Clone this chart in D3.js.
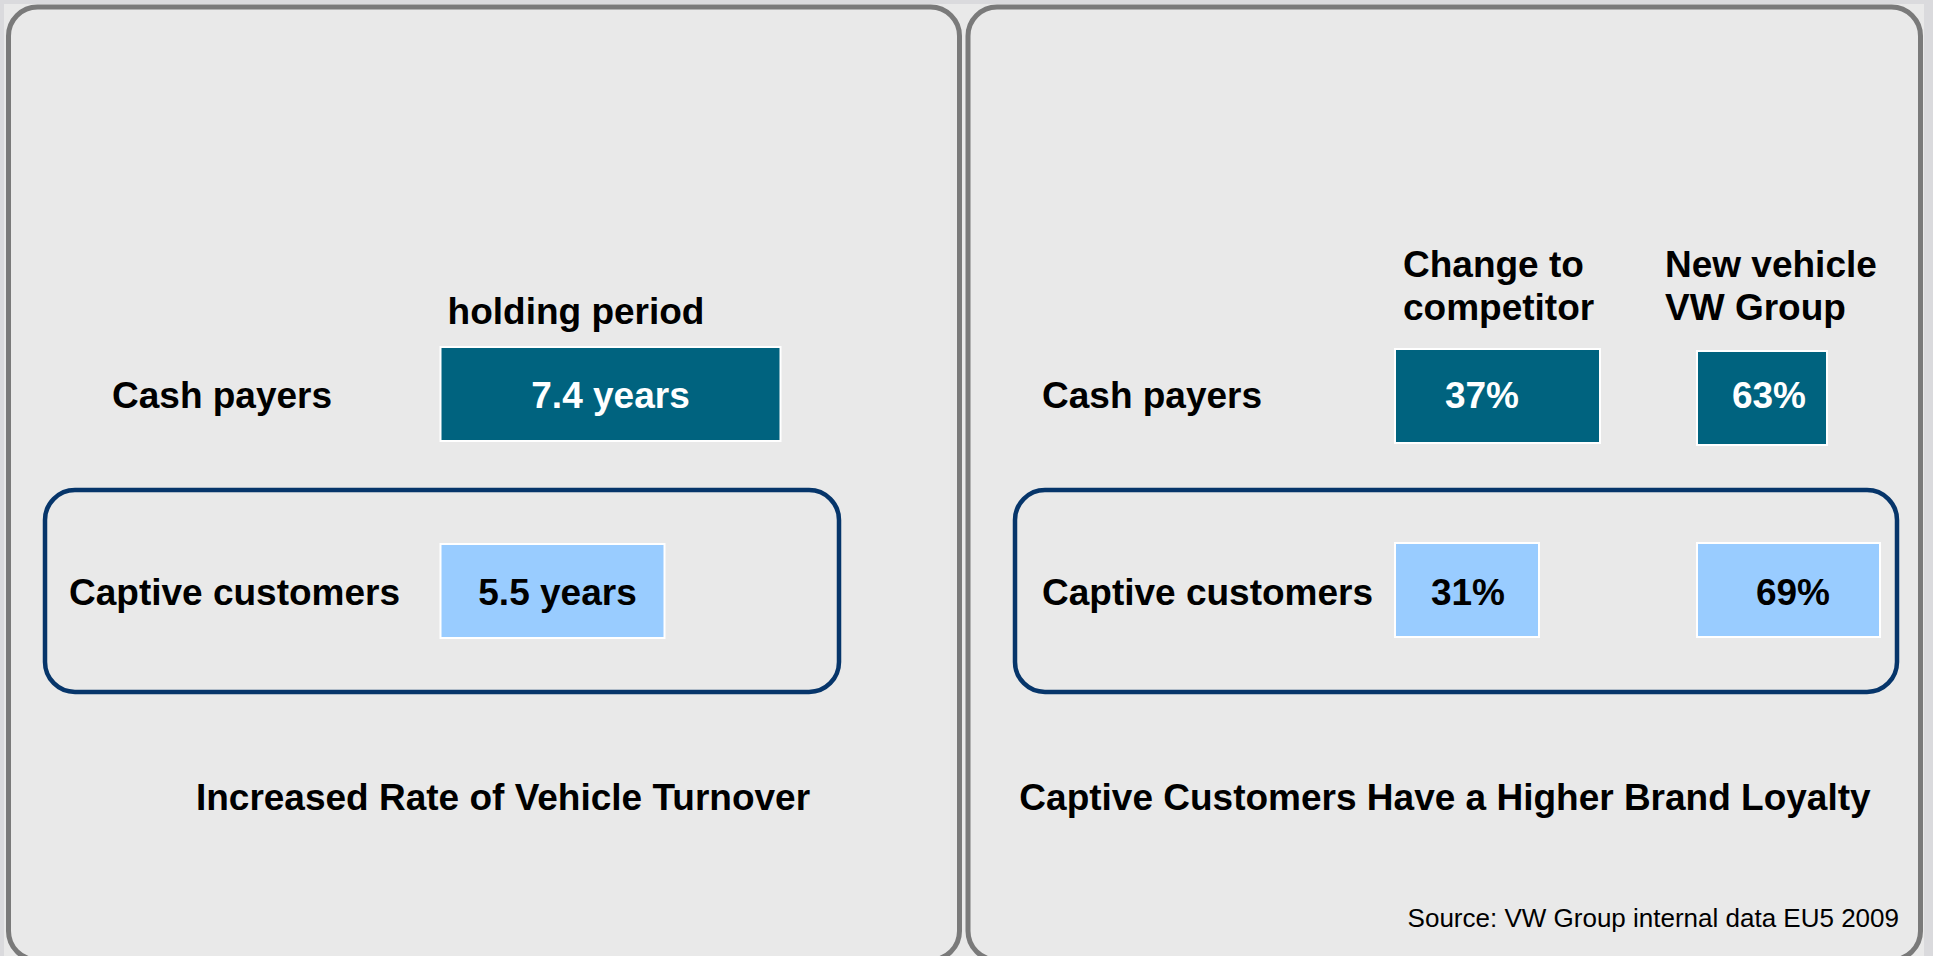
<!DOCTYPE html>
<html>
<head>
<meta charset="utf-8">
<script src="https://cdn.jsdelivr.net/npm/d3@7"></script>
<style>
  html, body { margin: 0; padding: 0; background: #dadadd; overflow: hidden; }
  svg { display: block; }
  text { font-family: "Liberation Sans", Arial, Helvetica, sans-serif; }
</style>
</head>
<body>
<div id="container"></div>
<script>
// Data
const rows = ["Cash payers", "Captive customers"];
const holdingYears = [7.4, 5.5];
const loyaltyColumns = ["Change to\ncompetitor", "New vehicle\nVW Group"];
const changeToCompetitor = [37, 31];
const newVehicleVW = [63, 69];
const leftTitle = "Increased Rate of Vehicle Turnover";
const rightTitle = "Captive Customers Have a Higher Brand Loyalty";
const holdingHeader = "holding period";
const source = "Source: VW Group internal data EU5 2009";

// Chart dimensions
const width = 1933;
const height = 956;
const dark = "#00637f";
const light = "#99ccff";
const navy = "#06356a";
const barH = 94;

const svg = d3.create("svg").attr("width", width).attr("height", height);

// Panels
const panels = [
  { x0: 8.5, x1: 959.5 },
  { x0: 968, x1: 1920.5 }
];
svg.append("rect")
  .attr("x", 4).attr("y", 4)
  .attr("width", 1920).attr("height", 960)
  .attr("fill", "#e9e9e9");

svg.selectAll("rect.panel")
  .data(panels)
  .join("rect")
  .attr("class", "panel")
  .attr("x", d => d.x0)
  .attr("y", 7)
  .attr("width", d => d.x1 - d.x0)
  .attr("height", 953)
  .attr("rx", 29)
  .attr("fill", "#e9e9e9")
  .attr("stroke", "#7a7a7a")
  .attr("stroke-width", 5);

// Row centres (point scale on the rows)
const y = d3.scalePoint().domain(rows).range([394, 591]);

// Captive customer highlight boxes
const captiveY0 = 490, captiveY1 = 692;
svg.selectAll("rect.captive")
  .data([[45, 839], [1015, 1897]])
  .join("rect")
  .attr("class", "captive")
  .attr("x", d => d[0])
  .attr("y", captiveY0)
  .attr("width", d => d[1] - d[0])
  .attr("height", captiveY1 - captiveY0)
  .attr("rx", 30)
  .attr("fill", "none")
  .attr("stroke", navy)
  .attr("stroke-width", 4.5);

function label(g, x, yy, txt, anchor, size, weight, fill) {
  g.append("text")
    .attr("x", x)
    .attr("y", yy)
    .attr("text-anchor", anchor)
    .attr("font-size", size)
    .attr("font-weight", weight)
    .attr("fill", fill || "#000")
    .text(txt);
}

// ---------- Left panel: holding period ----------
const left = svg.append("g");
const xYears = d3.scaleLinear().domain([5.5, 7.4]).range([224, 340]);
const leftBarX = 440.5;
const leftLabelDx = [0, 5];
const leftRowX = [112, 69];

label(left, 576, 324, holdingHeader, "middle", 37, "bold");

rows.forEach((r, i) => {
  label(left, leftRowX[i], y(r) + 13.5, r, "start", 37, "bold");
});

left.selectAll("rect.bar")
  .data(holdingYears)
  .join("rect")
  .attr("class", "bar")
  .attr("x", leftBarX)
  .attr("y", (d, i) => y(rows[i]) - barH / 2)
  .attr("width", d => xYears(d))
  .attr("height", barH)
  .attr("fill", (d, i) => i === 0 ? dark : light)
  .attr("stroke", "#fff")
  .attr("stroke-width", 2);

left.selectAll("text.val")
  .data(holdingYears)
  .join("text")
  .attr("class", "val")
  .attr("x", (d, i) => leftBarX + xYears(d) / 2 + leftLabelDx[i])
  .attr("y", (d, i) => y(rows[i]) + 13.5)
  .attr("text-anchor", "middle")
  .attr("font-size", 37)
  .attr("font-weight", "bold")
  .attr("fill", (d, i) => i === 0 ? "#fff" : "#000")
  .text(d => d3.format(".1f")(d) + " years");

label(left, 503, 810, leftTitle, "middle", 37, "bold");

// ---------- Right panel: brand loyalty ----------
const right = svg.append("g");
const xCol = d3.scaleOrdinal().domain(loyaltyColumns).range([1395, 1697]);
const headerDx = [8, -32];
// cell layout [width, label offset, dy] per row/column, as drawn in the slide
const cellLayout = [
  [[205, 87, 2], [130, 72, 4]],
  [[144, 73, -1], [183, 96, -1]]
];

loyaltyColumns.forEach((c, k) => {
  c.split("\n").forEach((line, j) => {
    label(right, xCol(c) + headerDx[k], 277 + j * 43, line, "start", 37, "bold");
  });
});

rows.forEach(r => {
  label(right, 1042, y(r) + 13.5, r, "start", 37, "bold");
});

const cells = [];
rows.forEach((r, i) => {
  [changeToCompetitor, newVehicleVW].forEach((series, j) => {
    cells.push({ row: r, col: loyaltyColumns[j], value: series[i], i, j });
  });
});

right.selectAll("rect.cell")
  .data(cells)
  .join("rect")
  .attr("class", "cell")
  .attr("x", d => xCol(d.col))
  .attr("y", d => y(d.row) - barH / 2 + cellLayout[d.i][d.j][2])
  .attr("width", d => cellLayout[d.i][d.j][0])
  .attr("height", barH)
  .attr("fill", d => d.i === 0 ? dark : light)
  .attr("stroke", "#fff")
  .attr("stroke-width", 2);

right.selectAll("text.pct")
  .data(cells)
  .join("text")
  .attr("class", "pct")
  .attr("x", d => xCol(d.col) + cellLayout[d.i][d.j][1])
  .attr("y", d => y(d.row) + 13.5)
  .attr("text-anchor", "middle")
  .attr("font-size", 37)
  .attr("font-weight", "bold")
  .attr("fill", d => d.i === 0 ? "#fff" : "#000")
  .text(d => d.value + "%");

label(right, 1445, 810, rightTitle, "middle", 37, "bold");
label(right, 1899, 927, source, "end", 26, "normal");

document.getElementById("container").append(svg.node());
</script>
</body>
</html>
